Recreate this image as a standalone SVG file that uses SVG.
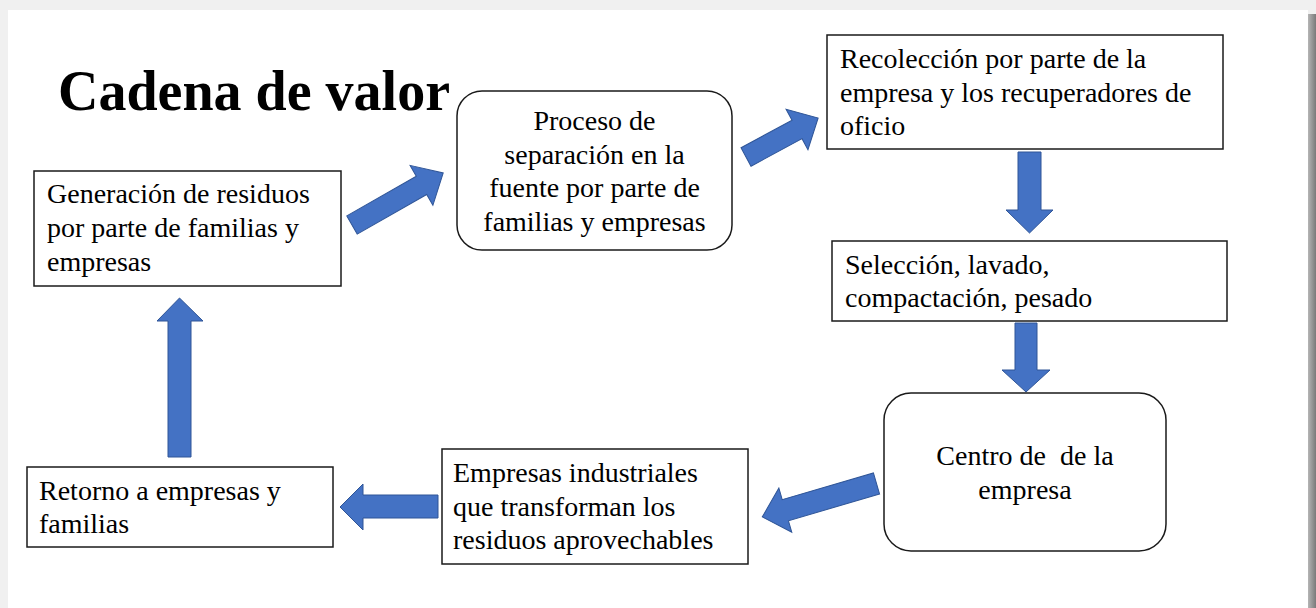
<svg xmlns="http://www.w3.org/2000/svg" width="1316" height="608" viewBox="0 0 1316 608">
<defs>
<linearGradient id="shadowR" x1="0" y1="0" x2="1" y2="0">
<stop offset="0" stop-color="#b5b5b5"/>
<stop offset="1" stop-color="#7a7a7a"/>
</linearGradient>
<style>
.box{fill:#ffffff;stroke:#1a1a1a;stroke-width:1.5}
.t{font-family:"Liberation Serif","Times New Roman",serif;font-size:28px;fill:#000}
.c{text-anchor:middle}
.arr{fill:#4472C4;stroke:#2F5597;stroke-width:1}
</style>
</defs>
<rect x="0" y="0" width="1316" height="608" fill="#f0f0f0"/>
<rect x="8" y="10" width="1300" height="598" fill="#ffffff"/>
<rect x="1308" y="14" width="8" height="594" fill="url(#shadowR)"/>
<text x="58" y="110" font-family="'Liberation Serif','Times New Roman',serif" font-size="56" font-weight="bold" fill="#000">Cadena de valor</text>
<g id="connectors">
<polygon class="arr" points="168,457 191,457 191,321 203,321 179.5,298 157,321 168,321"/>
<polygon class="arr" points="438,495 438,518 363,518 363,530 340,507 363,484 363,495"/>
<polygon class="arr" points="1018,152 1041,152 1041,210 1053,210 1029.5,233 1006,210 1018,210"/>
<polygon class="arr" points="1015,323 1037,323 1037,370 1050,370 1026,392 1002,370 1015,370"/>
<polygon class="arr" transform="translate(352,225) rotate(-29.7)" points="0,-10.5 80,-10.5 80,-23 105,0 80,23 80,10.5 0,10.5"/>
<polygon class="arr" transform="translate(746,157) rotate(-28.4)" points="0,-10.5 58,-10.5 58,-23 82,0 58,23 58,10.5 0,10.5"/>
<polygon class="arr" transform="translate(876.5,483.5) rotate(163.7)" points="0,-11 95,-11 95,-23 119,0 95,23 95,11 0,11"/>
</g>
<g id="n-generacion">
<rect class="box" x="34" y="171" width="307" height="115"/>
<text class="t" x="47" y="203">Generación de residuos</text>
<text class="t" x="47" y="237">por parte de familias y</text>
<text class="t" x="47" y="271">empresas</text>
</g>
<g id="n-proceso">
<rect class="box" x="457" y="91" width="275" height="159" rx="25" ry="25"/>
<text class="t c" x="594.5" y="130">Proceso de</text>
<text class="t c" x="594.5" y="163.5">separación en la</text>
<text class="t c" x="594.5" y="197">fuente por parte de</text>
<text class="t c" x="594.5" y="231">familias y empresas</text>
</g>
<g id="n-recoleccion">
<rect class="box" x="827" y="35" width="396" height="114"/>
<text class="t" x="840" y="68">Recolección por parte de la</text>
<text class="t" x="840" y="102">empresa y los recuperadores de</text>
<text class="t" x="840" y="135">oficio</text>
</g>
<g id="n-seleccion">
<rect class="box" x="832" y="241" width="395" height="80"/>
<text class="t" x="845" y="274">Selección, lavado,</text>
<text class="t" x="845" y="307">compactación, pesado</text>
</g>
<g id="n-centro">
<rect class="box" x="884" y="393" width="282" height="158" rx="27" ry="27"/>
<text class="t c" x="1025" y="465" xml:space="preserve">Centro de  de la</text>
<text class="t c" x="1025" y="499">empresa</text>
</g>
<g id="n-empresas">
<rect class="box" x="442" y="449" width="306" height="115"/>
<text class="t" x="453" y="482">Empresas industriales</text>
<text class="t" x="453" y="516">que transforman los</text>
<text class="t" x="453" y="549">residuos aprovechables</text>
</g>
<g id="n-retorno">
<rect class="box" x="27" y="467" width="306" height="80"/>
<text class="t" x="39" y="500">Retorno a empresas y</text>
<text class="t" x="39" y="533">familias</text>
</g>
</svg>
